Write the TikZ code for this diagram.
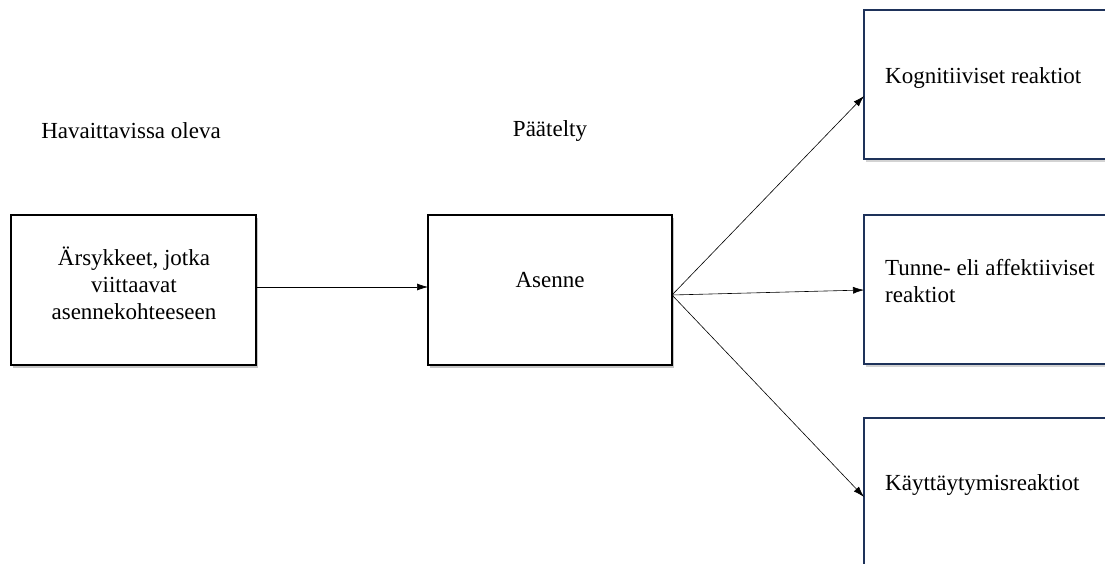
\documentclass[tikz,border=0pt]{standalone}
\usepackage{fontspec}
\setmainfont{Liberation Serif}
\usetikzlibrary{shadows,arrows.meta}
\begin{document}
\begin{tikzpicture}[x=1pt,y=-1pt,
  box/.style={draw=black,line width=1.8pt,fill=white,drop shadow={shadow xshift=2pt,shadow yshift=-3pt,opacity=0.45}},
  rbox/.style={draw={rgb,255:red,30;green,50;blue,90},line width=1.6pt,fill=white,drop shadow={shadow xshift=2pt,shadow yshift=-3pt,opacity=0.35}},
  lbl/.style={font=\fontsize{23}{27}\selectfont,inner sep=0pt},
  conn/.style={-{Latex[length=11pt,width=7pt]},line width=0.6pt}]
\useasboundingbox (0,0) rectangle (1105,564);
\clip (0,0) rectangle (1105,564);
% boxes
\draw[box] (11,215) rectangle (256,365);
\coordinate (L) at (256,287);
\draw[box] (428,215) rectangle (672,365);
\coordinate (A) at (428,287);
\coordinate (Aout) at (672,295);
\draw[rbox] (864,10) rectangle (1120,159);
\draw[rbox] (864,215) rectangle (1120,364);
\draw[rbox] (864,418) rectangle (1120,600);
\coordinate (K) at (864,96);
\coordinate (T) at (864,290);
\coordinate (B) at (864,497);
% labels
\node[lbl,align=center] (s) at (134,283) {Ärsykkeet, jotka\\viittaavat\\asennekohteeseen};
\node[lbl] (as) at (550,280) {Asenne};
\node[lbl] (ho) at (131,131) {Havaittavissa oleva};
\node[lbl] (pt) at (550,131) {Päätelty};
\node[lbl,anchor=west] (kr) at (885,78) {Kognitiiviset reaktiot};
\node[lbl,anchor=west,align=left] (tr) at (885,281) {Tunne- eli affektiiviset\\reaktiot};
\node[lbl,anchor=west] (kt) at (885,485) {Käyttäytymisreaktiot};
% connectors
\draw[conn] (L) -- (A);
\draw[conn] (Aout) -- (K);
\draw[conn] (Aout) -- (T);
\draw[conn] (Aout) -- (B);
\end{tikzpicture}
\end{document}
